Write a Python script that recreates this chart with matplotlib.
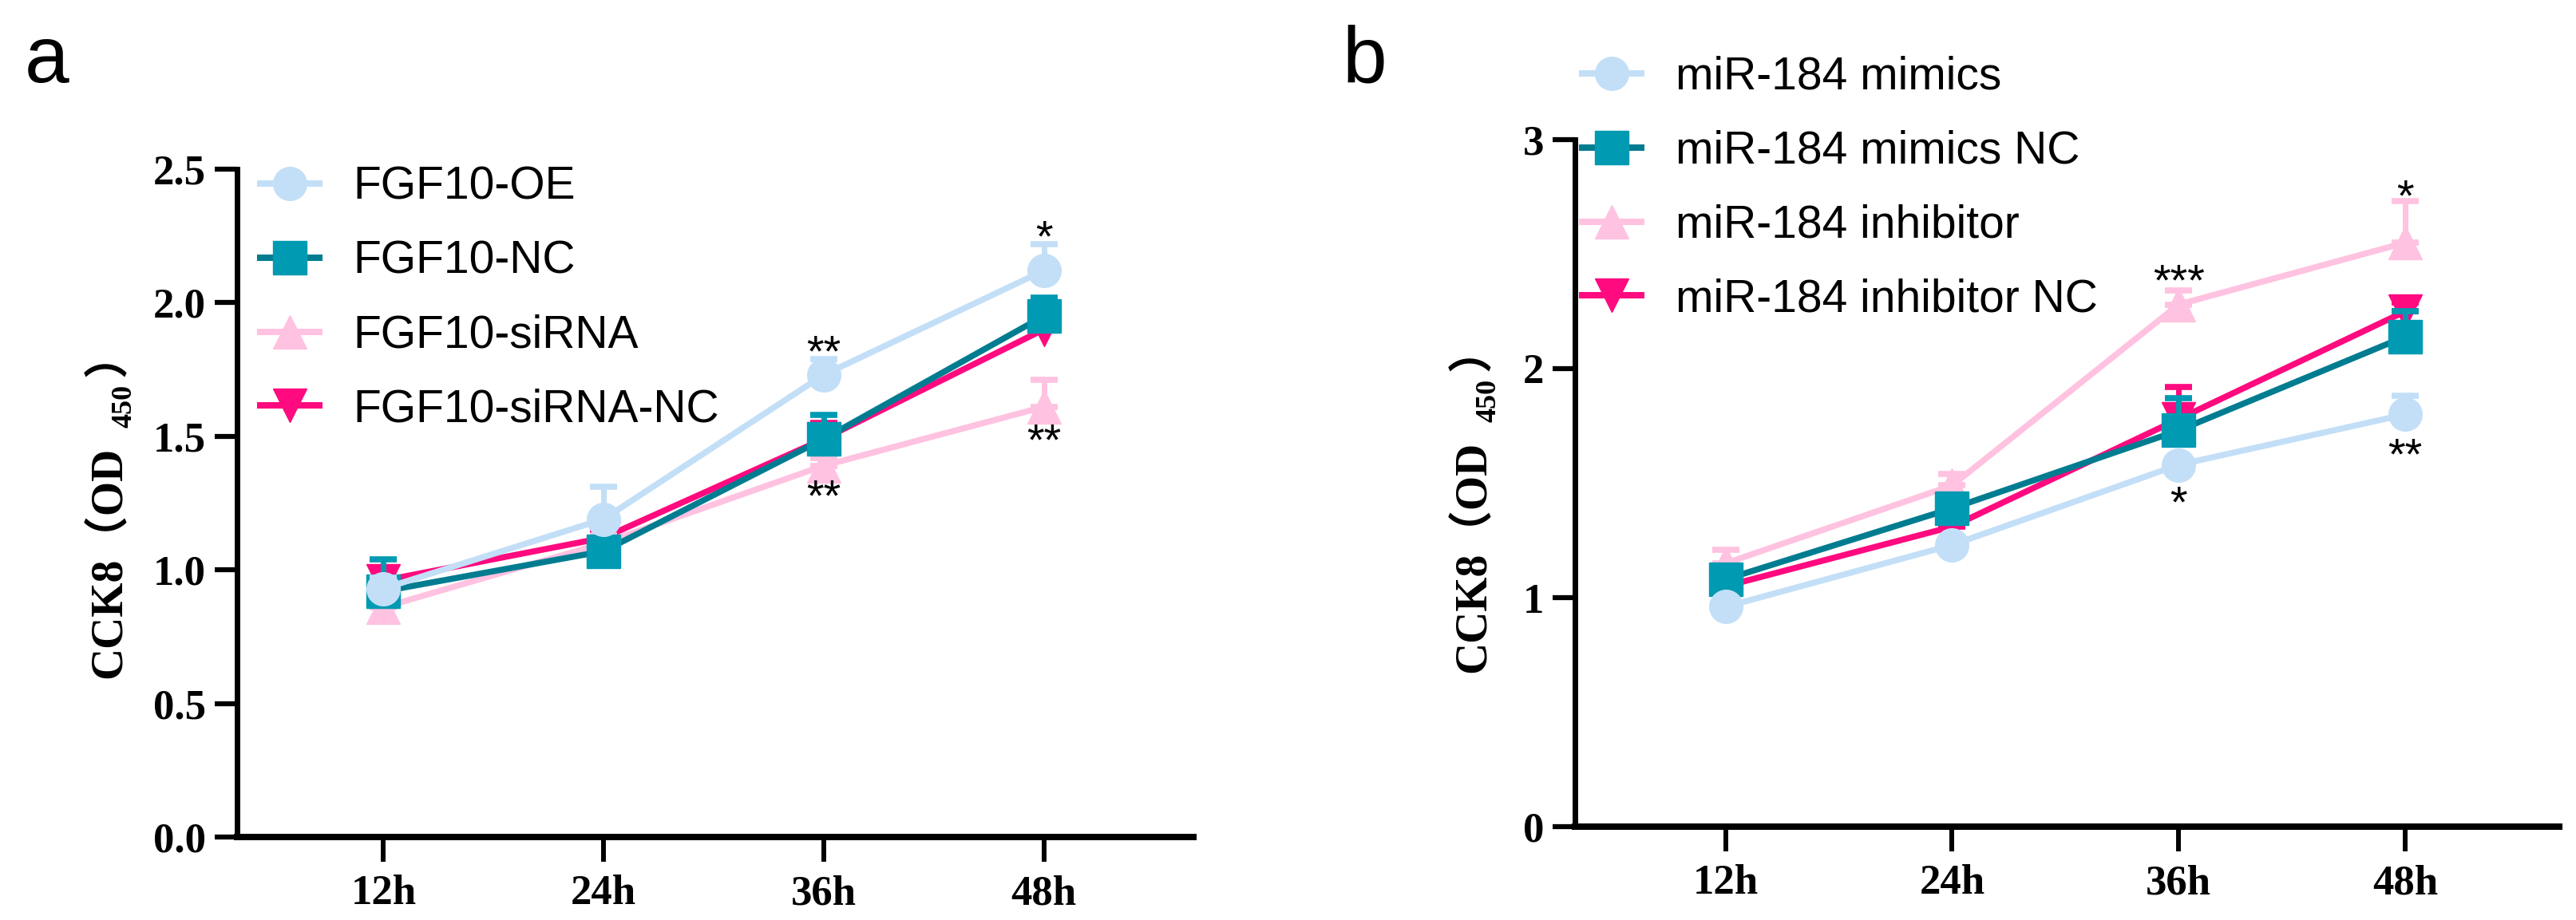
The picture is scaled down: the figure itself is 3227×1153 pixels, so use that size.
import numpy as np
import matplotlib
matplotlib.use("Agg")
import matplotlib.pyplot as plt
from matplotlib.lines import Line2D

W, H = 3227, 1153

# x categories
times = ['12h', '24h', '36h', '48h']

# panel a: FGF10
a_labels = ['FGF10-OE', 'FGF10-NC', 'FGF10-siRNA', 'FGF10-siRNA-NC']
a_oe = [0.93, 1.19, 1.73, 2.12]
a_oe_err = [0.04, 0.12, 0.06, 0.10]
a_nc = [0.92, 1.07, 1.49, 1.95]
a_nc_err = [0.12, 0.03, 0.09, 0.07]
a_si = [0.86, 1.10, 1.39, 1.61]
a_si_err = [0.04, 0.03, 0.03, 0.10]
a_sinc = [0.96, 1.12, 1.49, 1.90]
a_sinc_err = [0.05, 0.02, 0.06, 0.03]
# significance marks: (text, time index, y centre)
a_stars = [('**', 2, 1.83), ('**', 2, 1.29), ('*', 3, 2.26), ('**', 3, 1.50)]

# panel b: miR-184
b_labels = ['miR-184 mimics', 'miR-184 mimics NC', 'miR-184 inhibitor', 'miR-184 inhibitor NC']
b_mim = [0.96, 1.23, 1.58, 1.80]
b_mim_err = [0.03, 0.03, 0.03, 0.08]
b_mimnc = [1.08, 1.39, 1.73, 2.14]
b_mimnc_err = [0.05, 0.04, 0.14, 0.11]
b_inh = [1.15, 1.49, 2.28, 2.55]
b_inh_err = [0.06, 0.05, 0.06, 0.18]
b_inhnc = [1.05, 1.31, 1.78, 2.25]
b_inhnc_err = [0.04, 0.03, 0.14, 0.04]
b_stars = [('***', 2, 2.40), ('*', 2, 1.43), ('*', 3, 2.77), ('**', 3, 1.64)]

# y label pieces: main text, subscript, closing bracket
ylab_parts = ['CCK8（OD', '450', '）']

# styles: (marker, marker colour, line colour)
styles = [('o', '#C3DFF7', '#C3DFF7'),
          ('s', '#009AB2', '#007C91'),
          ('^', '#FFC2E0', '#FFC2E0'),
          ('v', '#FF0A7F', '#FF0A7F')]

fig = plt.figure(figsize=(W / 100, H / 100), dpi=100)
ax_a = fig.add_axes([297 / W, 1 - 1049 / H, 1198 / W, 837 / H])
ax_b = fig.add_axes([1973 / W, 1 - 1036 / H, 1233 / W, 861 / H])

x = np.arange(1, len(times) + 1)


def draw_panel(ax, series, errs, labels, stars, ylim, yticks, yfmt, leg_xy):
    nser = len(series)
    for i, (y, e, (mk, mc, lc)) in enumerate(zip(series, errs, styles)):
        z = 10 + (nser - i) * 2
        ax.plot(x, y, color=lc, lw=5.5, zorder=z, clip_on=False, solid_capstyle='butt')
        ax.errorbar(x, y, yerr=[np.zeros(len(y)), e], fmt=mk, color=mc, ms=30, mec=mc,
                    elinewidth=5, capsize=12, capthick=5.5, zorder=z + 1, clip_on=False)
    for s, ti, yc in stars:
        ax.annotate(s, (x[ti], yc), xytext=(0, -16), textcoords='offset points',
                    ha='center', va='baseline', fontsize=40, family='Liberation Sans',
                    zorder=40)

    ax.set_xlim(0.335, 4.68)
    ax.set_ylim(*ylim)
    ax.set_xticks(x)
    ax.set_xticklabels(times)
    ax.set_yticks(yticks)
    ax.set_yticklabels([yfmt.format(v) for v in yticks])
    for sp in ['top', 'right']:
        ax.spines[sp].set_visible(False)
    ax.spines['left'].set_linewidth(5)
    ax.spines['bottom'].set_linewidth(5.8)
    ax.tick_params(axis='y', direction='out', length=20, width=4.5, pad=8)
    ax.tick_params(axis='x', direction='out', length=22, width=4.3, pad=12)
    for lab in ax.get_xticklabels() + ax.get_yticklabels():
        lab.set_fontfamily('Liberation Serif')
        lab.set_fontweight('bold')
        lab.set_fontsize(38)

    handles = [Line2D([], [], color=lc, lw=5.8, marker=mk, ms=30, mfc=mc, mec=mc)
               for mk, mc, lc in styles]
    fig.legend(handles, labels, loc='upper left', bbox_to_anchor=leg_xy,
               frameon=False, borderpad=0, borderaxespad=0, handlelength=1.3,
               handletextpad=0.75, labelspacing=0.68,
               prop={'family': 'Liberation Sans', 'size': 41})


def stacked_ylabel(xb, y0):
    # rotated label built from pieces so the full-width brackets and the subscript both work
    r = fig.canvas.get_renderer()
    sizes = [40, 26, 40]
    shifts = [0, 12, 0]
    gaps = [0, 24, 10]
    y = y0
    for s, fs, dx, g in zip(ylab_parts, sizes, shifts, gaps):
        y += g
        t = fig.text((xb + dx) / W, y / H, s, rotation=90, rotation_mode='anchor',
                     ha='left', va='baseline', fontsize=fs, fontweight='bold',
                     family=['Liberation Serif', 'Noto Sans CJK SC'])
        y = t.get_window_extent(r).y1


draw_panel(ax_a, [a_oe, a_nc, a_si, a_sinc], [a_oe_err, a_nc_err, a_si_err, a_sinc_err],
           a_labels, a_stars, (0, 2.5), [0, 0.5, 1.0, 1.5, 2.0, 2.5], '{:.1f}',
           (326 / W, 1 - 208 / H))
draw_panel(ax_b, [b_mim, b_mimnc, b_inh, b_inhnc], [b_mim_err, b_mimnc_err, b_inh_err, b_inhnc_err],
           b_labels, b_stars, (0, 3), [0, 1, 2, 3], '{:d}',
           (1982 / W, 1 - 70 / H))

stacked_ylabel(152, H - 850)
stacked_ylabel(1861, H - 843)

fig.text(31 / W, 1 - 103 / H, 'a', ha='left', va='baseline', fontsize=72, family='Liberation Sans')
fig.text(1682 / W, 1 - 103 / H, 'b', ha='left', va='baseline', fontsize=72, family='Liberation Sans')

fig.savefig('out.png', dpi=100)
